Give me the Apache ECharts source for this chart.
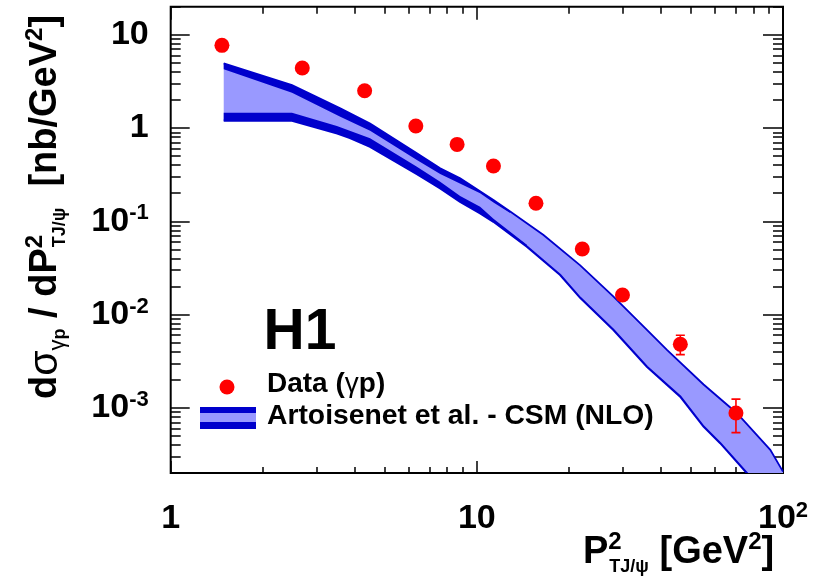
<!DOCTYPE html>
<html><head><meta charset="utf-8">
<script src="https://cdn.jsdelivr.net/npm/echarts@6/dist/echarts.min.js"></script>
<style>html,body{margin:0;padding:0;background:#fff}#c{width:816px;height:588px}</style>
</head><body><div id="c"></div>
<script>
// ---- data ----
const dataX = [1.47, 2.69, 4.30, 6.32, 8.62, 11.33, 15.6, 22.1, 29.9, 46.2, 70.2];
const dataY = [7.7, 4.40, 2.51, 1.05, 0.668, 0.392, 0.156, 0.0505, 0.0162, 0.00481, 0.00088];
const dataErrLow  = [null, null, null, null, null, null, null, null, null, 0.00372, 0.000542];
const dataErrHigh = [null, null, null, null, null, null, null, null, null, 0.0060, 0.00124];

const upperOuterX = [1.49, 2.49, 3.58, 4.48, 6.37, 7.59, 8.82, 11.33, 12.85, 16.51, 21.76, 27.95, 35.94, 41.78, 55.03, 70.73, 90.88, 100];
const upperOuterY = [4.94, 2.89, 1.63, 1.12, 0.536, 0.370, 0.289, 0.169, 0.127, 0.0713, 0.0337, 0.0156, 0.00684, 0.00418, 0.00178, 0.000875, 0.000354, 0.000207];
const upperInnerX = [1.49, 2.49, 3.58, 4.48, 6.37, 7.59, 10.25, 11.33, 12.85];
const upperInnerY = [4.26, 2.39, 1.32, 0.936, 0.454, 0.321, 0.1995, 0.159, 0.1225];
const lowerInnerX = [1.49, 2.49, 3.49, 4.48, 6.37, 7.59, 8.82, 10.25, 11.33, 14.57];
const lowerInnerY = [1.46, 1.46, 1.05, 0.775, 0.385, 0.266, 0.187, 0.143, 0.1066, 0.0561];
const lowerOuterX = [1.49, 2.49, 3.5, 3.85, 4.48, 6.37, 7.59, 8.82, 10.25, 11.33, 14.57, 18.72, 21.76, 27.95, 35.94, 46.17, 55.03, 62.39, 76.29, 100];
const lowerOuterY = [1.20, 1.20, 0.877, 0.781, 0.630, 0.321, 0.226, 0.162, 0.122, 0.099, 0.0534, 0.0266, 0.0151, 0.00684, 0.00276, 0.00132, 0.000629, 0.000418, 0.000199, 0.000071];

// ---- ticks ----
const xMajorTicks = [1, 10, 100];
const xMinorTicks = [2, 3, 4, 5, 6, 7, 8, 9, 20, 30, 40, 50, 60, 70, 80, 90];
const yMajorTicks = [0.001, 0.01, 0.1, 1, 10];
const yMinorTicks = [0.0002, 0.0003, 0.0004, 0.0005, 0.0006, 0.0007, 0.0008, 0.0009,
  0.002, 0.003, 0.004, 0.005, 0.006, 0.007, 0.008, 0.009,
  0.02, 0.03, 0.04, 0.05, 0.06, 0.07, 0.08, 0.09,
  0.2, 0.3, 0.4, 0.5, 0.6, 0.7, 0.8, 0.9,
  2, 3, 4, 5, 6, 7, 8, 9, 20];

const legendData = 'Data (γp)';
const legendModel = 'Artoisenet et al. - CSM (NLO)';

const DARK = '#0000cc', LIGHT = '#9999ff', RED = '#ff0000';
const FONT = '"Liberation Sans", Arial, Helvetica, sans-serif';

function powLabel(v) {
  const e = Math.round(Math.log10(v));
  if (e === 0) return '1';
  if (e === 1) return '10';
  return '10{sup|' + e + '}';
}

function axis(kind, pos, ticks, len, withLabels) {
  const isX = kind === 'x';
  const a = {
    type: 'log', logBase: 10,
    min: isX ? 1 : 0.0002, max: isX ? 100 : 20,
    position: pos,
    axisLine: { show: false },
    splitLine: { show: false },
    minorTick: { show: false },
    axisTick: { show: true, inside: true, length: len, customValues: ticks,
      lineStyle: { color: '#000', width: 1.5 } },
    axisLabel: { show: false }
  };
  if (withLabels) {
    a.axisLabel = {
      show: true, customValues: ticks, formatter: powLabel,
      fontFamily: FONT, fontWeight: 'bold', fontSize: 34, color: '#000',
      lineHeight: 38, margin: isX ? 27 : 22,
      rich: { sup: { fontFamily: FONT, fontWeight: 'bold', fontSize: 22, color: '#000',
        verticalAlign: 'top', lineHeight: isX ? 24 : 18 } }
    };
  }
  return a;
}

function toPts(xs, ys, api) { return xs.map((x, i) => api.coord([x, ys[i]])); }

const chart = echarts.init(document.getElementById('c'), null, { renderer: 'canvas' });

const bandData = upperOuterX.map((x, i) => [x, upperOuterY[i]]);
const pointData = dataX.map((x, i) => [x, dataY[i]]);
const errData = [];
dataX.forEach((x, i) => { if (dataErrLow[i] != null) errData.push([x, dataErrLow[i], dataErrHigh[i]]); });

const mainRich = {
  m: { fontFamily: FONT, fontWeight: 'bold', fontSize: 38, fill: '#000', lineHeight: 46, align: 'left' },
  sup: { fontFamily: FONT, fontWeight: 'bold', fontSize: 24, fill: '#000', lineHeight: 32, verticalAlign: 'top', align: 'left' },
  supz: { fontFamily: FONT, fontWeight: 'bold', fontSize: 24, fill: '#000', lineHeight: 32, verticalAlign: 'top', align: 'left', width: 1 },
  sub: { fontFamily: FONT, fontWeight: 'bold', fontSize: 18, fill: '#000', lineHeight: 10, verticalAlign: 'bottom', align: 'left' },
  subn: { fontFamily: FONT, fontWeight: 'normal', fontSize: 22, fill: '#000', lineHeight: 10, verticalAlign: 'bottom', align: 'left' },
  sg: { fontFamily: FONT, fontWeight: 'normal', fontSize: 41, fill: '#000', lineHeight: 46, align: 'left' }
};

const option = {
  animation: false,
  backgroundColor: '#fff',
  textStyle: { fontFamily: FONT },
  grid: { left: 170.7, top: 6.7, right: 33, bottom: 115, show: true,
    borderColor: '#000', borderWidth: 2, backgroundColor: 'transparent',
    containLabel: false, outerBoundsMode: 'none' },
  xAxis: [
    axis('x', 'bottom', xMajorTicks, 12, true),
    axis('x', 'bottom', xMinorTicks, 6, false),
    axis('x', 'top', xMajorTicks, 13, false),
    axis('x', 'top', xMinorTicks, 7, false)
  ],
  yAxis: [
    axis('y', 'left', yMajorTicks, 19, true),
    axis('y', 'left', yMinorTicks, 10, false),
    axis('y', 'right', yMajorTicks, 20, false),
    axis('y', 'right', yMinorTicks, 10, false)
  ],
  series: [
    {
      type: 'custom', name: legendModel, clip: true, z: 1,
      data: bandData,
      encode: { x: 0, y: 1 },
      renderItem: function (params, api) {
        if (params.dataIndex !== 0) return null;
        const uo = toPts(upperOuterX, upperOuterY, api);
        const ui = toPts(upperInnerX, upperInnerY, api);
        const li = toPts(lowerInnerX, lowerInnerY, api);
        const lo = toPts(lowerOuterX, lowerOuterY, api);
        const uEnd = upperInnerX[upperInnerX.length - 1];
        const lEnd = lowerInnerX[lowerInnerX.length - 1];
        const uoLeft = uo.filter((p, i) => upperOuterX[i] <= uEnd);
        const loLeft = lo.filter((p, i) => lowerOuterX[i] <= lEnd);
        return { type: 'group', children: [
          { type: 'polygon', shape: { points: uo.concat(lo.slice().reverse()) }, style: { fill: LIGHT } },
          { type: 'polygon', shape: { points: uoLeft.concat(ui.slice().reverse()) }, style: { fill: DARK } },
          { type: 'polygon', shape: { points: li.concat(loLeft.slice().reverse()) }, style: { fill: DARK } },
          { type: 'polyline', shape: { points: uo }, style: { stroke: DARK, lineWidth: 1.8, fill: null } },
          { type: 'polyline', shape: { points: lo }, style: { stroke: DARK, lineWidth: 2.2, fill: null } }
        ] };
      }
    },
    {
      type: 'custom', name: 'errors', clip: true, z: 2,
      data: errData,
      encode: { x: 0, y: [1, 2] },
      renderItem: function (params, api) {
        const x = api.value(0);
        const p1 = api.coord([x, api.value(1)]);
        const p2 = api.coord([x, api.value(2)]);
        const w = 4.5;
        const st = { stroke: RED, lineWidth: 1.6 };
        return { type: 'group', children: [
          { type: 'line', shape: { x1: p1[0], y1: p1[1], x2: p2[0], y2: p2[1] }, style: st },
          { type: 'line', shape: { x1: p1[0] - w, y1: p1[1], x2: p1[0] + w, y2: p1[1] }, style: st },
          { type: 'line', shape: { x1: p2[0] - w, y1: p2[1], x2: p2[0] + w, y2: p2[1] }, style: st }
        ] };
      }
    },
    {
      type: 'scatter', name: legendData, z: 3,
      data: pointData, symbol: 'circle', symbolSize: 15,
      itemStyle: { color: RED, opacity: 1 },
      emphasis: { disabled: true }
    }
  ],
  graphic: [
    { type: 'text', x: 300, y: 333, z: 10,
      style: { text: 'H1', fontFamily: FONT, fontWeight: 'bold', fontSize: 57, fill: '#000',
        align: 'center', textAlign: 'center', verticalAlign: 'middle', textVerticalAlign: 'middle' } },
    { type: 'circle', shape: { cx: 227, cy: 387, r: 7.5 }, style: { fill: RED }, z: 10 },
    { type: 'rect', shape: { x: 200, y: 407, width: 56, height: 22 }, style: { fill: DARK }, z: 10 },
    { type: 'rect', shape: { x: 200, y: 413, width: 56, height: 9 }, style: { fill: LIGHT }, z: 11 },
    { type: 'text', x: 267, y: 384, z: 10,
      style: { text: 'Data ({g|γ}p)', fontFamily: FONT, fontWeight: 'bold', fontSize: 28, fill: '#000',
        align: 'left', textAlign: 'left', verticalAlign: 'middle', textVerticalAlign: 'middle',
        rich: { g: { fontFamily: FONT, fontWeight: 'normal', fontSize: 28, fill: '#000' } } } },
    { type: 'text', x: 267, y: 416, z: 10,
      style: { text: legendModel, fontFamily: FONT, fontWeight: 'bold', fontSize: 28.3, fill: '#000',
        align: 'left', textAlign: 'left', verticalAlign: 'middle', textVerticalAlign: 'middle' } },
    { type: 'text', x: 583, y: 553, z: 10,
      style: { text: '{m|P}{supz|2}{sub|TJ/ψ}{m| [GeV}{sup|2}{m|]}', rich: mainRich,
        align: 'left', textAlign: 'left', verticalAlign: 'middle', textVerticalAlign: 'middle' } },
    { type: 'text', x: 46, y: 399, rotation: Math.PI / 2, z: 10,
      style: { text: '{m|d}{sg|σ}{subn|γ}{sub|p}{m| / dP}{supz|2}{sub|TJ/ψ}{m|  [nb/GeV}{sup|2}{m|]}', rich: mainRich,
        align: 'left', textAlign: 'left', verticalAlign: 'middle', textVerticalAlign: 'middle' } }
  ]
};
chart.setOption(option);
</script>
</body></html>
